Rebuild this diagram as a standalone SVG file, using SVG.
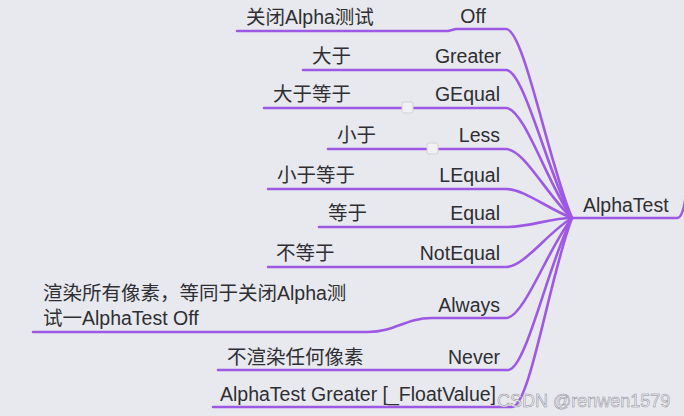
<svg xmlns="http://www.w3.org/2000/svg" width="684" height="416" viewBox="0 0 684 416">
<style>
.t{font-family:"Liberation Sans","Noto Sans CJK SC",sans-serif;font-size:19.5px;fill:#2e2e33}
.r{text-anchor:end}
.c{fill:none;stroke:#9d58e4;stroke-width:2.6;stroke-linecap:round;stroke-linejoin:round}
.b{fill:#f1f1f4;stroke:#cfcfd6;stroke-width:1}
.w{font-family:"Liberation Sans",sans-serif;font-size:18px;fill:#f2f2f5;stroke:#8a8a95;stroke-width:0.5}
</style>
<rect width="684" height="416" fill="#e8e9ee"/>
<g id="connectors">
<path class="c" d="M572 218 H677 Q683 218 686 194"/>
<path class="c" d="M237 31 H448 L456 29 H506 C524 29 548 161 572 218"/>
<path class="c" d="M303 70 H506 C524 70 548 174 572 218"/>
<path class="c" d="M264 108 H506 C524 108 548 185 572 218"/>
<path class="c" d="M328 149 H506 C524 149 548 197 572 218"/>
<path class="c" d="M268 189 H506 C524 189 548 209 572 218"/>
<path class="c" d="M319 227 H506 C530 227 550 218 572 218"/>
<path class="c" d="M268 267 H506 C524 267 548 232 572 218"/>
<path class="c" d="M33 332 H368 C395 332 405 318 432 318 H506 C524 318 548 248 572 218"/>
<path class="c" d="M218 370 H508 C526 370 548 264 572 218"/>
<path class="c" d="M213 407 H512 C530 407 550 275 572 218"/>
</g>
<g id="root"><text class="t" x="583" y="212">AlphaTest</text></g>
<g id="n-off"><text class="t" x="246" y="24">关闭Alpha测试</text><text class="t r" x="486" y="23">Off</text></g>
<g id="n-greater"><text class="t" x="312" y="63">大于</text><text class="t r" x="501" y="63">Greater</text></g>
<g id="n-gequal"><text class="t" x="273" y="101">大于等于</text><text class="t r" x="500" y="101">GEqual</text><rect class="b" x="402" y="102" width="11" height="11" rx="2"/></g>
<g id="n-less"><text class="t" x="337" y="142">小于</text><text class="t r" x="500" y="142">Less</text><rect class="b" x="427" y="143" width="11" height="11" rx="2"/></g>
<g id="n-lequal"><text class="t" x="277" y="182">小于等于</text><text class="t r" x="500" y="182">LEqual</text></g>
<g id="n-equal"><text class="t" x="328" y="220">等于</text><text class="t r" x="500" y="220">Equal</text></g>
<g id="n-notequal"><text class="t" x="276" y="260">不等于</text><text class="t r" x="500" y="260">NotEqual</text></g>
<g id="n-always"><text class="t" x="43" y="300">渲染所有像素，等同于关闭Alpha测</text><text class="t" x="43" y="325">试一AlphaTest Off</text><text class="t r" x="500" y="312">Always</text></g>
<g id="n-never"><text class="t" x="227" y="364">不渲染任何像素</text><text class="t r" x="500" y="364">Never</text></g>
<g id="n-greater-float"><text class="t" x="220" y="401">AlphaTest Greater [_FloatValue]</text></g>
<text class="w" x="497" y="407">CSDN @renwen1579</text>
</svg>
